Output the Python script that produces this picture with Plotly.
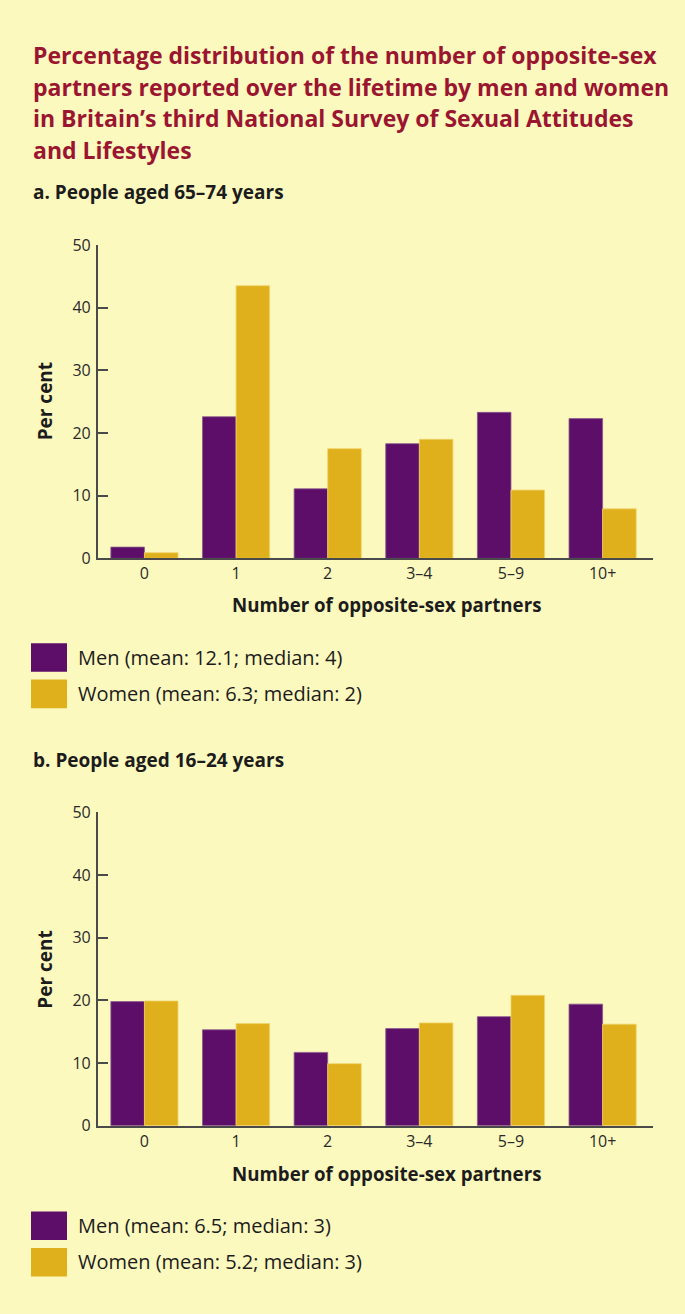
import plotly.graph_objects as go

W, H = 685, 1314

categories = ["0", "1", "2", "3–4", "5–9", "10+"]

older_men = [1.8, 22.6, 11.1, 18.3, 23.3, 22.3]
older_women = [0.9, 43.5, 17.5, 19.0, 10.9, 7.9]
young_men = [19.8, 15.3, 11.7, 15.5, 17.4, 19.4]
young_women = [19.9, 16.3, 9.9, 16.4, 20.8, 16.2]

older_labels = ["Men (mean: 12.1; median: 4)", "Women (mean: 6.3; median: 2)"]
young_labels = ["Men (mean: 6.5; median: 3)", "Women (mean: 5.2; median: 3)"]

y_ticks = [0, 10, 20, 30, 40, 50]

title_lines = [
    "Percentage distribution of the number of opposite-sex",
    "partners reported over the lifetime by men and women",
    "in Britain’s third National Survey of Sexual Attitudes",
    "and Lifestyles",
]

BG = "#FCF9BF"
PURPLE = "#5C0E69"
GOLD = "#DFB01C"
RED = "#9A1530"
INK = "#1C1C1C"
FONT = "Open Sans"


def px_x(x):
    return x / W


def px_y(y):
    return 1 - y / H


fig = go.Figure()

# panel a -> axes x/y, panel b -> x2/y2
panels = [
    ("x", "y", older_men, older_women),
    ("x2", "y2", young_men, young_women),
]
for xa, ya, men, women in panels:
    fig.add_trace(go.Bar(x=categories, y=men, marker_color=PURPLE,
                         marker_line=dict(color="#8A5A8E", width=0.8),
                         xaxis=xa, yaxis=ya, showlegend=False))
    fig.add_trace(go.Bar(x=categories, y=women, marker_color=GOLD,
                         marker_line=dict(color="#F0D36A", width=0.8),
                         xaxis=xa, yaxis=ya, showlegend=False))

x_dom = [px_x(97.7), px_x(653)]
axis_x = dict(domain=x_dom, range=[-0.51, 5.55], showline=True, linecolor="#4A4A4A",
              linewidth=1.5, ticks="", tickfont=dict(family=FONT, size=16, color="#2A2A2A"),
              showgrid=False, zeroline=False, fixedrange=True)
axis_y = dict(range=[0, 50], tickvals=y_ticks, showline=True, linecolor="#4A4A4A",
              linewidth=1.5, ticks="inside", ticklen=11, tickwidth=1.5, tickcolor="#4A4A4A",
              tickfont=dict(family=FONT, size=16, color="#2A2A2A"), ticklabelstandoff=2,
              showgrid=False, zeroline=False, fixedrange=True)

fig.update_layout(
    width=W, height=H,
    margin=dict(l=0, r=0, t=0, b=0),
    paper_bgcolor=BG, plot_bgcolor=BG,
    barmode="group", bargap=0.267, bargroupgap=0,
    xaxis=dict(axis_x, anchor="y"),
    yaxis=dict(axis_y, anchor="x", domain=[px_y(556.7), px_y(238)]),
    xaxis2=dict(axis_x, anchor="y2"),
    yaxis2=dict(axis_y, anchor="x2", domain=[px_y(1133.7), px_y(815)]),
)

ann = []
for i, line in enumerate(title_lines):
    ann.append(dict(text=line, x=px_x(31), y=px_y(45 + 32 * i), xanchor="left", yanchor="middle",
                    font=dict(family=FONT, size=23, color=RED, weight="bold")))

# subtitles, axis titles and legends for both panels
for sub, top, labels in [("a. People aged 65–74 years", 0, older_labels),
                         ("b. People aged 16–24 years", 578, young_labels)]:
    ann.append(dict(text=sub, x=px_x(31), y=px_y(184 + top), xanchor="left", yanchor="middle",
                    font=dict(family=FONT, size=19, color=INK, weight="bold")))
    ann.append(dict(text="Per cent", x=px_x(45), y=px_y(397 + top), textangle=-90,
                    xanchor="center", yanchor="middle",
                    font=dict(family=FONT, size=19, color=INK, weight="bold")))
    ann.append(dict(text="Number of opposite-sex partners", x=px_x(386), y=px_y(604 + top),
                    xanchor="center", yanchor="middle",
                    font=dict(family=FONT, size=18.7, color=INK, weight="bold")))
    for j, (lab, col) in enumerate(zip(labels, [PURPLE, GOLD])):
        y0 = 643 + top + 37 * j
        fig.add_shape(type="rect", xref="paper", yref="paper",
                      x0=px_x(31), x1=px_x(67), y0=px_y(y0), y1=px_y(y0 + 29),
                      fillcolor=col, line=dict(width=0))
        ann.append(dict(text=lab, x=px_x(76), y=px_y(y0 + 14), xanchor="left", yanchor="middle",
                        font=dict(family=FONT, size=20, color=INK)))

for a in ann:
    a.update(xref="paper", yref="paper", showarrow=False)
fig.update_layout(annotations=ann)

page_css = (
    "var h=document.documentElement;h.style.margin='0';h.style.padding='0';"
    "h.style.height='1314px';h.style.overflow='hidden';"
    "document.body.style.margin='0';document.body.style.padding='0';"
    "document.body.style.height='1314px';document.body.style.overflow='hidden';"
)
fig.write_html("out.html", config={"displayModeBar": False}, post_script=page_css)
